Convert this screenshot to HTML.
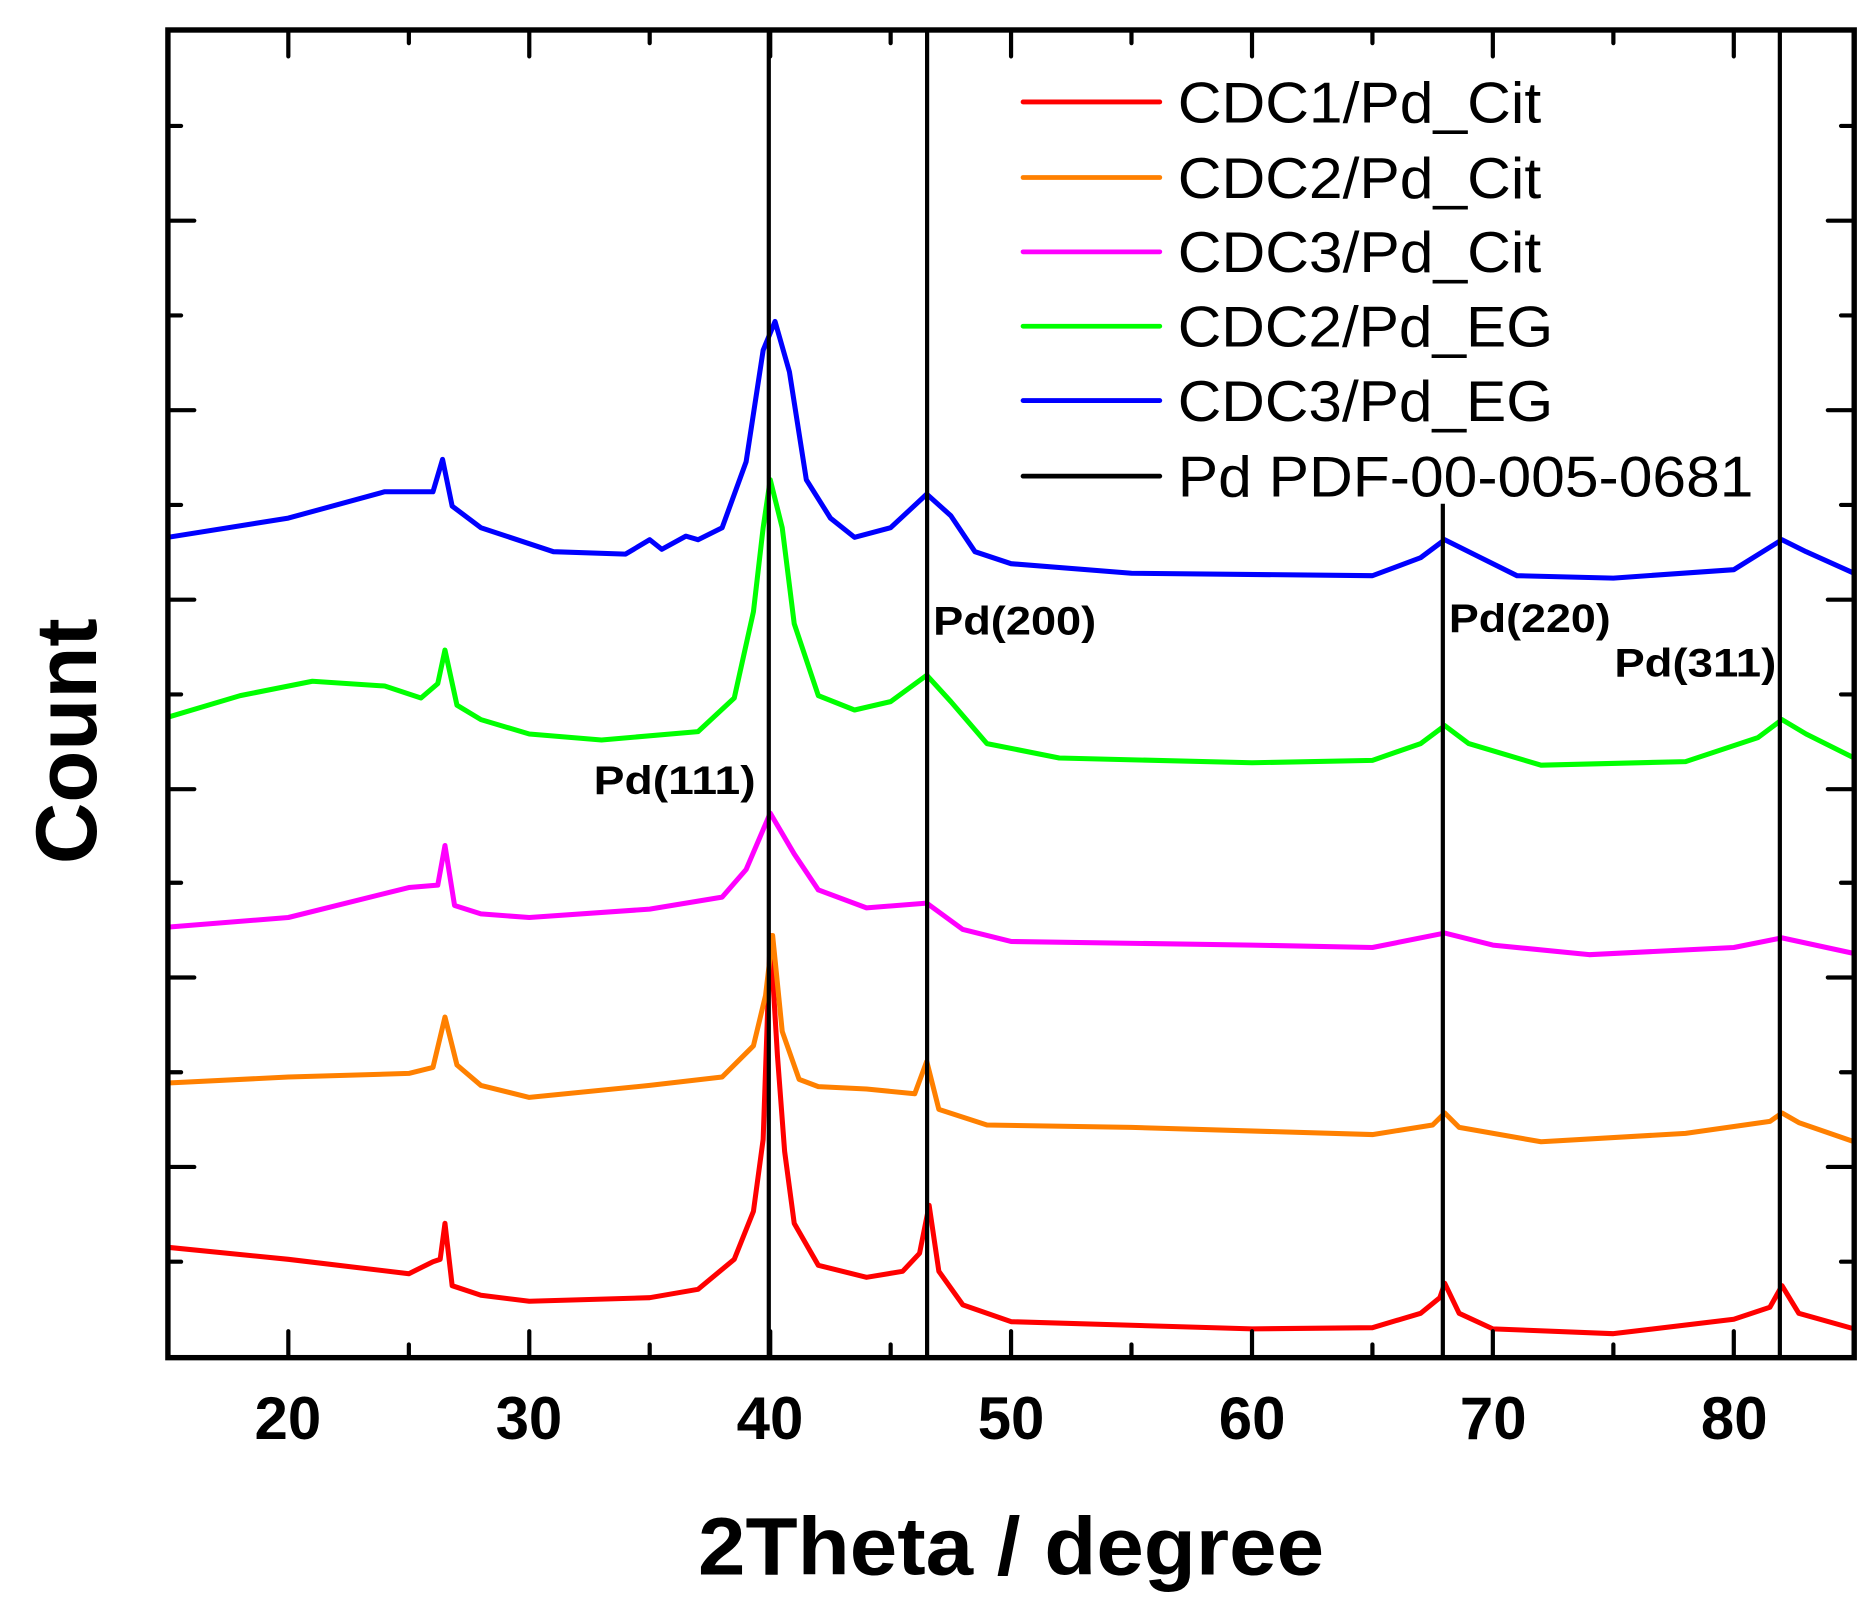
<!DOCTYPE html>
<html><head><meta charset="utf-8"><style>html,body{margin:0;padding:0;background:#fff}svg{display:block}</style></head>
<body>
<svg width="1871" height="1610" viewBox="0 0 1560 1342.4" preserveAspectRatio="none" xmlns="http://www.w3.org/2000/svg" font-family="Liberation Sans, sans-serif">
<rect width="1560" height="1343" fill="#fff"/>
<g fill="none" stroke-width="4.2" stroke-linejoin="round">
<polyline stroke="#ff0000" points="140,1040 240.4,1050 340.9,1062 361,1052 367,1050 371,1020 377,1072 401,1080 441.3,1085 541.7,1082 582,1075 612.2,1050 628.2,1010 636.3,950 642.2,780 648.2,880 654.2,960 662.2,1020 682.3,1055 722.5,1065 752.6,1060 766.7,1045 774.7,1005 782.8,1060 802.8,1088 843,1102 1043.9,1108 1144.3,1107 1184.5,1095 1200.5,1082 1204.6,1070 1216.6,1095 1244.7,1108 1345.2,1112 1445.6,1100 1475.7,1090 1485.8,1072 1499.8,1095 1546,1108"/>
<polyline stroke="#ff8000" points="140,903 240.4,898 340.9,895 361,890 371,848 381,888 401,905 441.3,915 541.7,905 602.1,898 628.2,872 638.3,830 644.2,780 652.2,860 666.3,900 682.3,906 722.5,908 762.7,912 772.7,885 782.8,925 822.9,938 943.4,940 1144.3,946 1194.5,938 1204.6,928 1216.6,940 1284.9,952 1405.4,945 1475.7,935 1485.8,928 1499.8,936 1546,952"/>
<polyline stroke="#ff00ff" points="140,773 240.4,765 340.9,740 365,738 371,705 379,755 401,762 441.3,765 541.7,758 602.1,748 622.1,725 642.2,678 662.2,712 682.3,742 722.5,757 772.7,753 802.8,775 843,785 1043.9,788 1144.3,790 1204.6,778 1244.7,788 1325,796 1445.6,790 1485.8,782 1546,795"/>
<polyline stroke="#00ff00" points="140,598 200.3,580 260.5,568 320.8,572 351,582 365,570 371,542 381,588 401,600 441.3,612 501.5,617 582,610 612.2,582 628.2,510 636.3,440 642.2,400 652.2,440 662.2,520 682.3,580 712.5,592 742.6,585 772.7,563 792.8,585 822.9,620 883.2,632 1043.9,636 1144.3,634 1184.5,620 1204.6,605 1224.6,620 1284.9,638 1405.4,635 1465.7,615 1485.8,600 1505.9,612 1546,632"/>
<polyline stroke="#0000ff" points="140,448 240.4,432 320.8,410 361,410 369,383 377,422 401,440 461.4,460 521.6,462 541.7,450 551.8,458 571.9,447 582,450 602.1,440 622.1,385 636.3,292 646.2,268 658.2,310 672.3,400 692.4,432 712.5,448 742.6,440 772.7,412 792.8,430 812.9,460 843,470 943.4,478 1144.3,480 1184.5,465 1204.6,450 1234.7,465 1264.8,480 1345.2,482 1445.6,475 1485.8,450 1505.9,460 1546,478"/>
</g>
<g stroke="#000" stroke-width="3.5" fill="none">
<line x1="641" y1="25" x2="641" y2="1132"/>
<line x1="773" y1="25" x2="773" y2="1132"/>
<line x1="1203" y1="420" x2="1203" y2="1132"/>
<line x1="1484" y1="25" x2="1484" y2="1132"/>
<rect x="140" y="25" width="1406" height="1107" stroke-width="4.5"/>
<g stroke-linecap="round">
<path d="M240.4 1132v-22M441.3 1132v-22M642.2 1132v-22M843 1132v-22M1043.9 1132v-22M1244.7 1132v-22M1445.6 1132v-22
M340.9 1132v-11M541.7 1132v-11M742.6 1132v-11M943.4 1132v-11M1144.3 1132v-11M1345.2 1132v-11
M240.4 25v22M441.3 25v22M642.2 25v22M843 25v22M1043.9 25v22M1244.7 25v22M1445.6 25v22
M340.9 25v11M541.7 25v11M742.6 25v11M943.4 25v11M1144.3 25v11M1345.2 25v11
M140 1052h11M140 973h22M140 894h11M140 815h22M140 736h11M140 658h22M140 579h11M140 500h22M140 421h11M140 342h22M140 263h11M140 184h22M140 105h11
M1546 1052h-11M1546 973h-22M1546 894h-11M1546 815h-22M1546 736h-11M1546 658h-22M1546 579h-11M1546 500h-22M1546 421h-11M1546 342h-22M1546 263h-11M1546 184h-22M1546 105h-11"/>
</g>
</g>
<g font-size="50" font-weight="bold" text-anchor="middle">
<text x="240" y="1200">20</text><text x="441" y="1200">30</text><text x="642" y="1200">40</text><text x="843" y="1200">50</text><text x="1044" y="1200">60</text><text x="1245" y="1200">70</text><text x="1446" y="1200">80</text>
</g>
<text x="843" y="1313" font-size="68" font-weight="bold" text-anchor="middle" textLength="522" lengthAdjust="spacingAndGlyphs">2Theta / degree</text>
<text transform="translate(80,618) rotate(-90)" font-size="72" font-weight="bold" text-anchor="middle" textLength="205" lengthAdjust="spacingAndGlyphs">Count</text>
<g font-size="33" font-weight="bold">
<text x="495" y="662" textLength="135" lengthAdjust="spacingAndGlyphs">Pd(111)</text>
<text x="778" y="529" textLength="136" lengthAdjust="spacingAndGlyphs">Pd(200)</text>
<text x="1208" y="527" textLength="135" lengthAdjust="spacingAndGlyphs">Pd(220)</text>
<text x="1346" y="564" textLength="135" lengthAdjust="spacingAndGlyphs">Pd(311)</text>
</g>
<g stroke-width="4" stroke-linecap="round">
<line x1="853" y1="85" x2="967" y2="85" stroke="#ff0000"/>
<line x1="853" y1="148" x2="967" y2="148" stroke="#ff8000"/>
<line x1="853" y1="210" x2="967" y2="210" stroke="#ff00ff"/>
<line x1="853" y1="272" x2="967" y2="272" stroke="#00ff00"/>
<line x1="853" y1="334" x2="967" y2="334" stroke="#0000ff"/>
<line x1="853" y1="397" x2="967" y2="397" stroke="#000"/>
</g>
<g font-size="48">
<text x="982" y="102" textLength="303" lengthAdjust="spacingAndGlyphs">CDC1/Pd_Cit</text>
<text x="982" y="165" textLength="303" lengthAdjust="spacingAndGlyphs">CDC2/Pd_Cit</text>
<text x="982" y="227" textLength="303" lengthAdjust="spacingAndGlyphs">CDC3/Pd_Cit</text>
<text x="982" y="289" textLength="313" lengthAdjust="spacingAndGlyphs">CDC2/Pd_EG</text>
<text x="982" y="351" textLength="313" lengthAdjust="spacingAndGlyphs">CDC3/Pd_EG</text>
<text x="982" y="414" textLength="480" lengthAdjust="spacingAndGlyphs">Pd PDF-00-005-0681</text>
</g>
</svg>
</body></html>
